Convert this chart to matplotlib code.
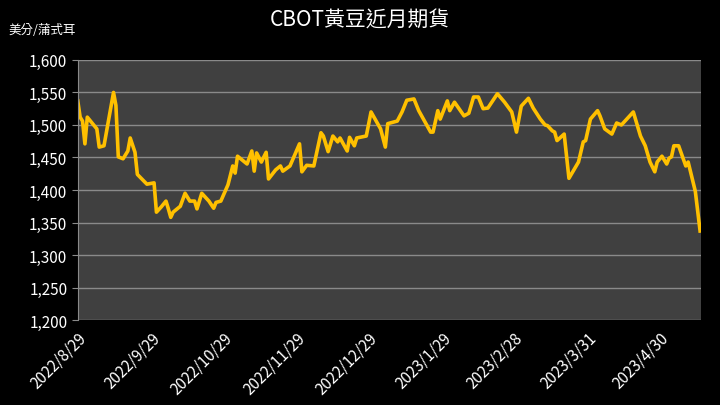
import matplotlib
matplotlib.use('Agg')
import matplotlib.pyplot as plt
import matplotlib.dates as mdates
from matplotlib.ticker import FuncFormatter
import numpy as np
from datetime import datetime, timedelta

plt.rcParams['font.family'] = ['Noto Sans CJK TC', 'DejaVu Sans']

# days since 2022/8/29 and price (cents/bushel)
day_offsets = [0, 1, 2, 3, 4, 8, 9, 11, 15, 16, 17, 19, 21, 22, 24, 25, 29, 32, 33, 35,
               37, 38, 39, 40, 43, 45, 47, 49, 50, 52, 55, 57, 58, 60, 63, 65, 66, 67, 71, 73,
               74, 75, 77, 79, 80, 83, 85, 86, 89, 93, 94, 96, 99, 102, 103, 105, 107, 109, 110, 113,
               114, 116, 117, 121, 123, 127, 129, 130, 134, 136, 138, 141, 143, 146, 148, 149, 151, 152, 155, 156,
               158, 162, 164, 166, 168, 170, 172, 176, 179, 182, 184, 186, 189, 191, 194, 196, 197, 199, 200, 201,
               204, 206, 210, 212, 213, 215, 218, 219, 221, 224, 226, 228, 233, 236, 238, 240, 242, 243, 245, 247,
               248, 249, 250, 252, 255, 256, 259, 261]
prices = [1537, 1512, 1506, 1471, 1512, 1494, 1466, 1468, 1550, 1530, 1451, 1448, 1460, 1480, 1458, 1424, 1409, 1411, 1366, 1374,
          1383, 1371, 1358, 1366, 1375, 1395, 1383, 1383, 1371, 1395, 1383, 1372, 1381, 1383, 1408, 1437, 1426, 1452, 1440, 1460,
          1429, 1457, 1443, 1458, 1417, 1431, 1437, 1429, 1437, 1471, 1428, 1438, 1437, 1488, 1483, 1459, 1483, 1474, 1480, 1460,
          1481, 1468, 1480, 1483, 1520, 1494, 1466, 1502, 1506, 1520, 1538, 1540, 1522, 1502, 1489, 1489, 1522, 1509, 1537, 1522,
          1535, 1514, 1518, 1543, 1543, 1525, 1526, 1548, 1535, 1520, 1489, 1529, 1541, 1526, 1509, 1500, 1499, 1491, 1489, 1476,
          1486, 1418, 1443, 1474, 1476, 1509, 1522, 1514, 1494, 1486, 1503, 1500, 1520, 1483, 1468, 1443, 1428, 1443, 1452, 1440,
          1449, 1451, 1468, 1468, 1437, 1443, 1398, 1337]
tick_dates = ['2022/8/29', '2022/9/29', '2022/10/29', '2022/11/29', '2022/12/29',
              '2023/1/29', '2023/2/28', '2023/3/31', '2023/4/30']

start = datetime(2022, 8, 29)
dates = [start + timedelta(days=d) for d in day_offsets]
ticks = [datetime.strptime(t, '%Y/%m/%d') for t in tick_dates]

fig = plt.figure(figsize=(7.2, 4.06), dpi=100, facecolor='black')
ax = fig.add_axes([0.108, 0.209, 0.866, 0.641])
ax.set_facecolor('#404040')

ax.plot(dates, prices, color='#FFC000', linewidth=2.6)

ax.set_ylim(1200, 1600)
ax.set_yticks(np.arange(1200, 1601, 50))
ax.yaxis.set_major_formatter(FuncFormatter(lambda v, p: f'{int(v):,}'))
ax.grid(True, axis='y', color='#8a8a8a', linewidth=1)
ax.set_axisbelow(True)

ax.set_xlim(start, start + timedelta(days=261.5))
ax.set_xticks(ticks)
ax.set_xticklabels(tick_dates, rotation=45, ha='right', rotation_mode='anchor')

for s in ['top', 'right', 'bottom']:
    ax.spines[s].set_visible(False)
ax.spines['left'].set_color('#8a8a8a')
ax.tick_params(colors='white', labelsize=11, length=4)
ax.tick_params(axis='x', length=0, pad=6)
ax.tick_params(axis='y', color='#8a8a8a')

fig.text(0.5, 0.95, 'CBOT黃豆近月期貨', color='white', fontsize=15, ha='center', va='center')
fig.text(0.012, 0.925, '美分/蒲式耳', color='white', fontsize=9, ha='left', va='center')

plt.savefig('out.png', dpi=100, facecolor='black')
plt.close()
